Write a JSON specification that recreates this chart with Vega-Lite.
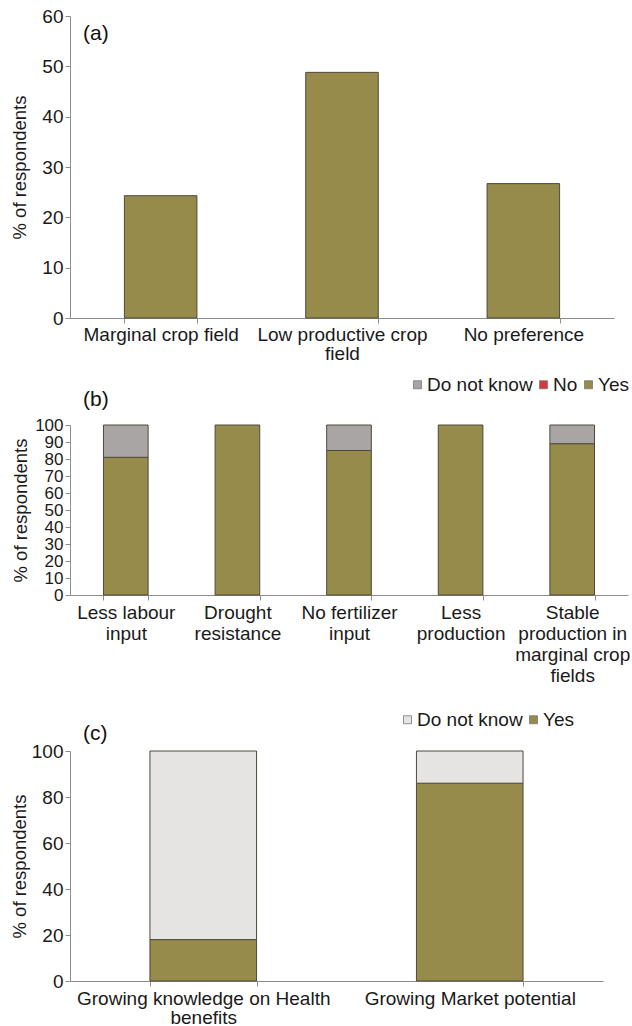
{
  "$schema": "https://vega.github.io/schema/vega-lite/v6.json",
  "background": "white",
  "padding": {"left": 10, "top": 7, "right": 0, "bottom": 0},
  "spacing": 12,
  "config": {
    "font": "Liberation Sans",
    "view": {"stroke": null},
    "axis": {
      "domainColor": "#8c8c8c",
      "tickColor": "#8c8c8c",
      "labelColor": "#1a1a1a",
      "titleColor": "#1a1a1a",
      "labelFontSize": 19,
      "titleFontSize": 18.5,
      "titleFontWeight": "normal",
      "grid": false,
      "tickSize": 5,
      "labelPadding": 2,
      "labelOverlap": false
    },
    "legend": {
      "labelFontSize": 19,
      "labelColor": "#1a1a1a",
      "symbolType": "square",
      "symbolSize": 64,
      "symbolStrokeColor": "#777777",
      "symbolStrokeWidth": 0.8,
      "labelOffset": 0,
      "columnPadding": 1,
      "padding": 0,
      "title": null
    },
    "title": {"fontSize": 21, "fontWeight": "normal", "color": "#111111", "anchor": "start", "frame": "group", "baseline": "middle"}
  },
  "resolve": {"scale": {"color": "independent"}},
  "vconcat": [
    {
      "width": 544,
      "height": 302,
      "title": {"text": "(a)", "offset": -37, "dx": 13},
      "data": {"values": [
        {"category": "Marginal crop field", "percent": 24.3},
        {"category": "Low productive crop field", "percent": 48.8},
        {"category": "No preference", "percent": 26.7}
      ]},
      "mark": {"type": "bar", "color": "#968b4b", "stroke": "#4d4a3c", "strokeWidth": 1},
      "encoding": {
        "x": {
          "field": "category", "type": "nominal", "sort": null,
          "scale": {"paddingInner": 0.6, "paddingOuter": 0.3},
          "axis": {"title": null, "labelAngle": 0, "tickBand": "extent", "labelLimit": 300, "labelLineHeight": 19,
            "labelExpr": "datum.label == 'Low productive crop field' ? ['Low productive crop', 'field'] : datum.label"}
        },
        "y": {
          "field": "percent", "type": "quantitative",
          "scale": {"domain": [0, 60], "nice": false},
          "axis": {"title": "% of respondents", "values": [0, 10, 20, 30, 40, 50, 60], "titlePadding": 12}
        }
      }
    },
    {
      "width": 558,
      "height": 170,
      "title": {"text": "(b)", "offset": -35, "dx": 13},
      "data": {"values": [
        {"category": "Less labour input", "response": "Yes", "percent": 81},
        {"category": "Less labour input", "response": "Do not know", "percent": 19},
        {"category": "Drought resistance", "response": "Yes", "percent": 100},
        {"category": "No fertilizer input", "response": "Yes", "percent": 85},
        {"category": "No fertilizer input", "response": "Do not know", "percent": 15},
        {"category": "Less production", "response": "Yes", "percent": 100},
        {"category": "Stable production in marginal crop fields", "response": "Yes", "percent": 89},
        {"category": "Stable production in marginal crop fields", "response": "Do not know", "percent": 11}
      ]},
      "mark": {"type": "bar", "stroke": "#4d4a3c", "strokeWidth": 1},
      "encoding": {
        "x": {
          "field": "category", "type": "nominal", "sort": null,
          "scale": {"paddingInner": 0.6, "paddingOuter": 0.3},
          "axis": {"title": null, "labelAngle": 0, "tickBand": "extent", "labelLimit": 300, "labelLineHeight": 21, "labelPadding": 3,
            "labelExpr": "datum.label == 'Less labour input' ? ['Less labour', 'input'] : datum.label == 'Drought resistance' ? ['Drought', 'resistance'] : datum.label == 'No fertilizer input' ? ['No fertilizer', 'input'] : datum.label == 'Less production' ? ['Less', 'production'] : datum.label == 'Stable production in marginal crop fields' ? ['Stable', 'production in', 'marginal crop', 'fields'] : datum.label"}
        },
        "y": {
          "field": "percent", "type": "quantitative", "stack": "zero",
          "scale": {"domain": [0, 100], "nice": false},
          "axis": {"title": "% of respondents", "values": [0, 10, 20, 30, 40, 50, 60, 70, 80, 90, 100], "labelFontSize": 17, "titlePadding": 4}
        },
        "color": {
          "field": "response", "type": "nominal",
          "scale": {"domain": ["Do not know", "No", "Yes"], "range": ["#aaa5a5", "#d9363e", "#968b4b"]},
          "legend": {"orient": "none", "direction": "horizontal", "legendX": 338, "legendY": -50,
            "labelExpr": "datum.label == 'No' ? 'No\u00a0\u00a0\u00a0\u00a0' : datum.label"}
        },
        "order": {"field": "response", "sort": "descending"}
      }
    },
    {
      "width": 533,
      "height": 230,
      "title": {"text": "(c)", "offset": -47, "dx": 13},
      "data": {"values": [
        {"category": "Growing knowledge on Health benefits", "response": "Yes", "percent": 18},
        {"category": "Growing knowledge on Health benefits", "response": "Do not know", "percent": 82},
        {"category": "Growing Market potential", "response": "Yes", "percent": 86},
        {"category": "Growing Market potential", "response": "Do not know", "percent": 14}
      ]},
      "mark": {"type": "bar", "stroke": "#4d4a3c", "strokeWidth": 1},
      "encoding": {
        "x": {
          "field": "category", "type": "nominal", "sort": null,
          "scale": {"paddingInner": 0.6, "paddingOuter": 0.3},
          "axis": {"title": null, "labelAngle": 0, "tickBand": "extent", "labelLimit": 320, "labelLineHeight": 19, "labelPadding": 3,
            "labelExpr": "datum.label == 'Growing knowledge on Health benefits' ? ['Growing knowledge on Health', 'benefits'] : datum.label"}
        },
        "y": {
          "field": "percent", "type": "quantitative", "stack": "zero",
          "scale": {"domain": [0, 100], "nice": false},
          "axis": {"title": "% of respondents", "values": [0, 20, 40, 60, 80, 100], "titlePadding": 2}
        },
        "color": {
          "field": "response", "type": "nominal",
          "scale": {"domain": ["Do not know", "Yes"], "range": ["#e6e3e3", "#968b4b"]},
          "legend": {"orient": "none", "direction": "horizontal", "legendX": 315, "legendY": -54, "padding": 13}
        },
        "order": {"field": "response", "sort": "descending"}
      }
    }
  ]
}
